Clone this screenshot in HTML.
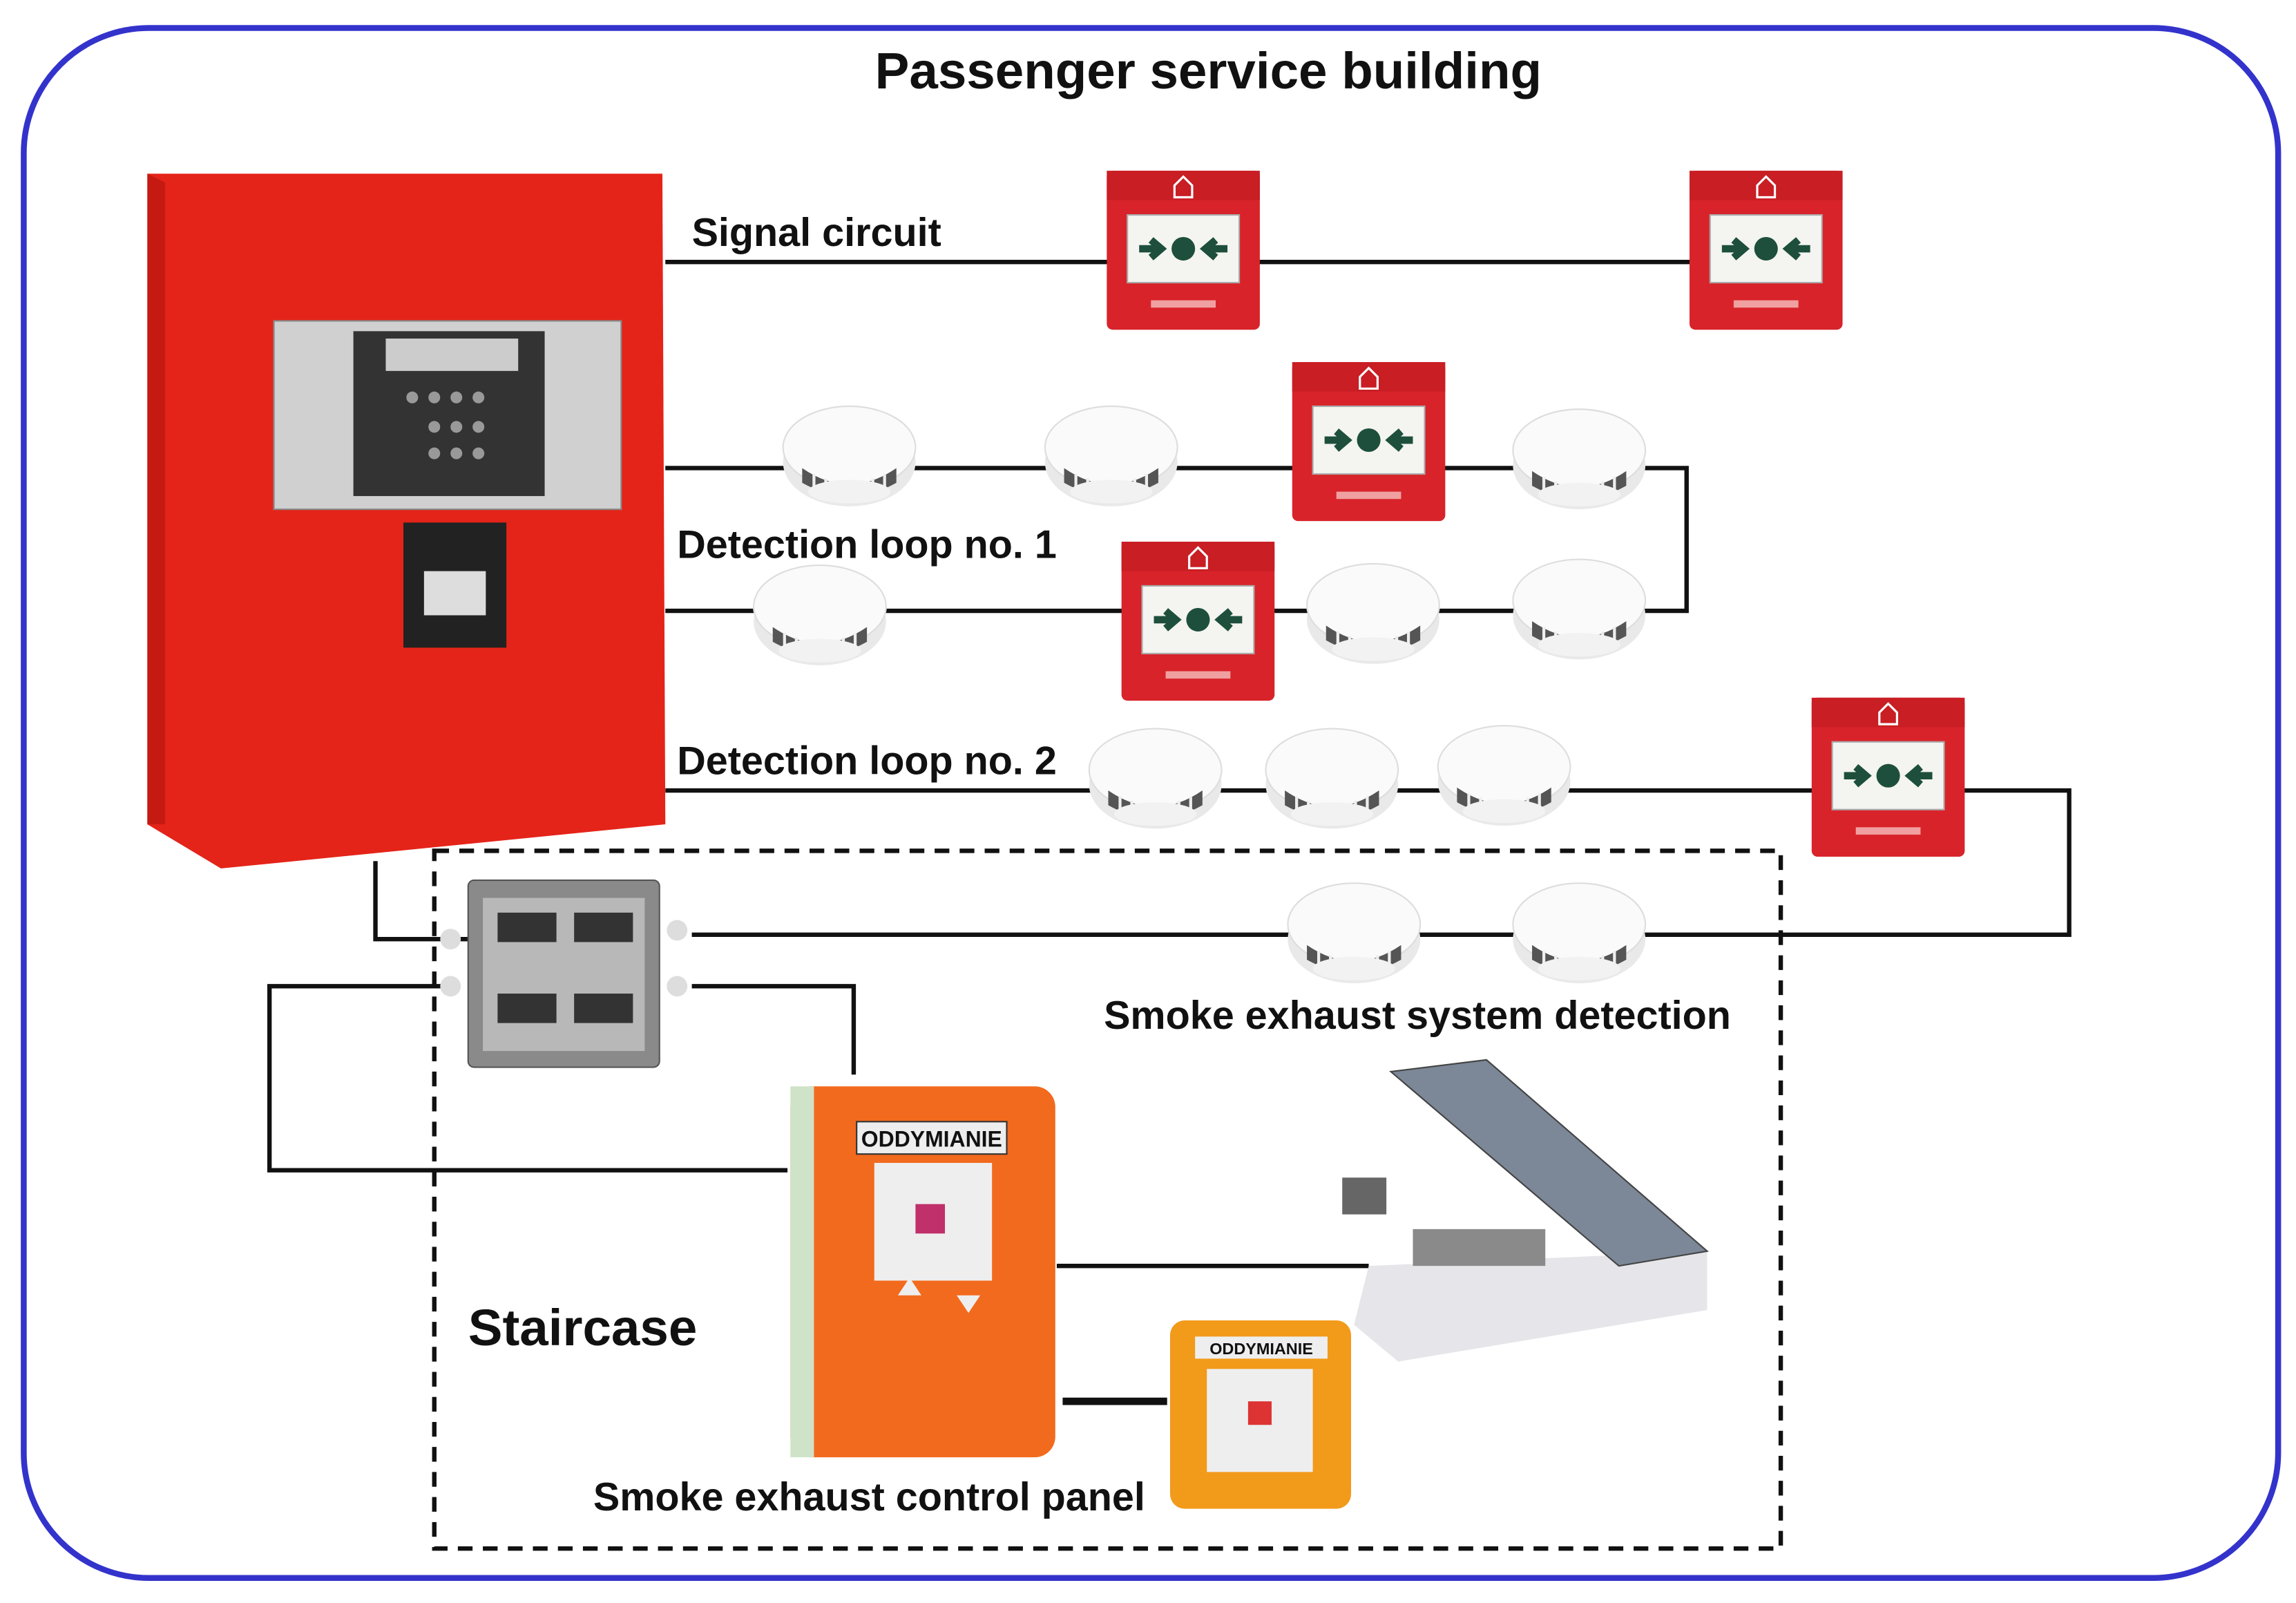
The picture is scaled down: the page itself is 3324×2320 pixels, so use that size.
<!DOCTYPE html>
<html><head><meta charset="utf-8"><style>
html,body{margin:0;padding:0;background:#fff;}
svg{display:block;}
text{font-family:"Liberation Sans",sans-serif;font-weight:bold;fill:#111;}
</style></head><body>
<svg width="3324" height="2320" viewBox="0 0 1560 1089" xmlns="http://www.w3.org/2000/svg">
<defs>
<g id="mcp">
 <rect x="0" y="0" width="104" height="108" rx="4" fill="#d8232a"/>
 <rect x="0" y="0" width="104" height="20" fill="#c81e24"/>
 <path d="M52 4 l6 6 v8 h-12 v-8z" fill="none" stroke="#fff" stroke-width="1.5"/>
 <rect x="14" y="30" width="76" height="46" fill="#f4f4f0" stroke="#aaa"/>
 <circle cx="52" cy="53" r="8" fill="#1d4f3c"/>
 <path d="M22 53 h14 M30 47 l7 6 -7 6" stroke="#1d4f3c" stroke-width="5" fill="none"/>
 <path d="M82 53 h-14 M74 47 l-7 6 7 6" stroke="#1d4f3c" stroke-width="5" fill="none"/>
 <rect x="30" y="88" width="44" height="5" fill="#f0a0a0"/>
</g>
<g id="det">
 <ellipse cx="0" cy="6" rx="45" ry="30" fill="#e9e9e9"/>
 <ellipse cx="0" cy="-4" rx="45" ry="28" fill="#fafafa" stroke="#ddd"/>
 <path d="M-32 10 q32 22 64 0 v10 q-32 18 -64 0z" fill="#555"/>
 <g stroke="#eee" stroke-width="2"><path d="M-24 14 v10 M-16 17 v10 M-8 19 v10 M0 20 v10 M8 19 v10 M16 17 v10 M24 14 v10"/></g>
 <ellipse cx="0" cy="26" rx="28" ry="8" fill="#f2f2f2"/>
</g>
</defs>
<rect x="16" y="19" width="1532" height="1053" rx="85" fill="none" stroke="#3333cc" stroke-width="4"/>
<text x="821" y="60" font-size="35" text-anchor="middle">Passenger service building</text>

<g stroke="#111" stroke-width="3" fill="none">
 <path d="M452 178 H1150"/>
 <path d="M452 318 H1146 V415 H452"/>
 <path d="M452 537 H1406 V635 H470"/>
 <path d="M255 585 V638 H318"/>
 <path d="M300 670 H183 V795 H535"/>
 <path d="M470 670 H580 V730"/>
 <path d="M718 860 H930"/>
</g>
<path d="M722 952 H793" stroke="#111" stroke-width="5"/>

<path d="M100 118 L450 118 L452 560 L150 590 L100 560Z" fill="#e42419"/>
<path d="M100 118 L112 124 L112 560 L100 560Z" fill="#c41a12"/>
<rect x="186" y="218" width="236" height="128" fill="#d0d0d0" stroke="#888"/>
<rect x="240" y="225" width="130" height="112" fill="#333"/>
<rect x="262" y="230" width="90" height="22" fill="#ccc"/>
<g fill="#999"><circle cx="280" cy="270" r="4"/><circle cx="295" cy="270" r="4"/><circle cx="310" cy="270" r="4"/><circle cx="325" cy="270" r="4"/><circle cx="295" cy="290" r="4"/><circle cx="310" cy="290" r="4"/><circle cx="325" cy="290" r="4"/><circle cx="295" cy="308" r="4"/><circle cx="310" cy="308" r="4"/><circle cx="325" cy="308" r="4"/></g>
<rect x="274" y="355" width="70" height="85" fill="#222"/>
<rect x="288" y="388" width="42" height="30" fill="#ddd"/>

<use href="#mcp" x="752" y="116"/>
<use href="#mcp" x="1148" y="116"/>
<use href="#mcp" x="878" y="246"/>
<use href="#mcp" x="762" y="368"/>
<use href="#mcp" x="1231" y="474"/>

<use href="#det" x="577" y="308"/>
<use href="#det" x="755" y="308"/>
<use href="#det" x="1073" y="310"/>
<use href="#det" x="557" y="416"/>
<use href="#det" x="933" y="415"/>
<use href="#det" x="1073" y="412"/>
<use href="#det" x="785" y="527"/>
<use href="#det" x="905" y="527"/>
<use href="#det" x="1022" y="525"/>
<use href="#det" x="920" y="632"/>
<use href="#det" x="1073" y="632"/>

<text x="470" y="167" font-size="27">Signal circuit</text>
<text x="460" y="379" font-size="27">Detection loop no. 1</text>
<text x="460" y="526" font-size="27">Detection loop no. 2</text>

<rect x="295" y="578" width="915" height="474" fill="none" stroke="#111" stroke-width="3" stroke-dasharray="10,7"/>

<rect x="318" y="598" width="130" height="127" rx="4" fill="#8a8a8a" stroke="#555"/>
<rect x="328" y="610" width="110" height="104" fill="#b8b8b8"/>
<rect x="338" y="620" width="40" height="20" fill="#333"/><rect x="390" y="620" width="40" height="20" fill="#333"/>
<rect x="338" y="675" width="40" height="20" fill="#333"/><rect x="390" y="675" width="40" height="20" fill="#333"/>
<g fill="#ddd"><circle cx="306" cy="638" r="7"/><circle cx="306" cy="670" r="7"/><circle cx="460" cy="632" r="7"/><circle cx="460" cy="670" r="7"/></g>

<text x="750" y="699" font-size="27">Smoke exhaust system detection</text>

<rect x="537" y="738" width="180" height="252" rx="14" fill="#f26a1d"/>
<rect x="537" y="738" width="16" height="252" fill="#cfe3c8"/>
<rect x="582" y="762" width="102" height="22" fill="#eee" stroke="#333"/>
<text x="633" y="779" font-size="15" text-anchor="middle" font-weight="normal">ODDYMIANIE</text>
<rect x="594" y="790" width="80" height="80" fill="#eee"/>
<rect x="622" y="818" width="20" height="20" fill="#c0306a"/>
<path d="M610 880 l8 -12 8 12z M650 880 l8 12 8 -12z" fill="#eee"/>

<rect x="795" y="897" width="123" height="128" rx="10" fill="#f29a1a"/>
<rect x="812" y="908" width="90" height="15" fill="#eee"/>
<text x="857" y="920" font-size="11" text-anchor="middle" font-weight="normal">ODDYMIANIE</text>
<rect x="820" y="930" width="72" height="70" fill="#eee"/>
<rect x="848" y="952" width="16" height="16" fill="#d33"/>

<path d="M930 860 L1160 850 L1160 890 L950 925 L920 900Z" fill="#e6e6ea"/>
<path d="M945 728 L1010 720 L1160 850 L1100 860 Z" fill="#7c8898" stroke="#444"/>
<rect x="912" y="800" width="30" height="25" fill="#666"/>
<rect x="960" y="835" width="90" height="25" fill="#8a8a8a"/>

<text x="318" y="914" font-size="35">Staircase</text>
<text x="403" y="1026" font-size="27">Smoke exhaust control panel</text>
</svg>
</body></html>
